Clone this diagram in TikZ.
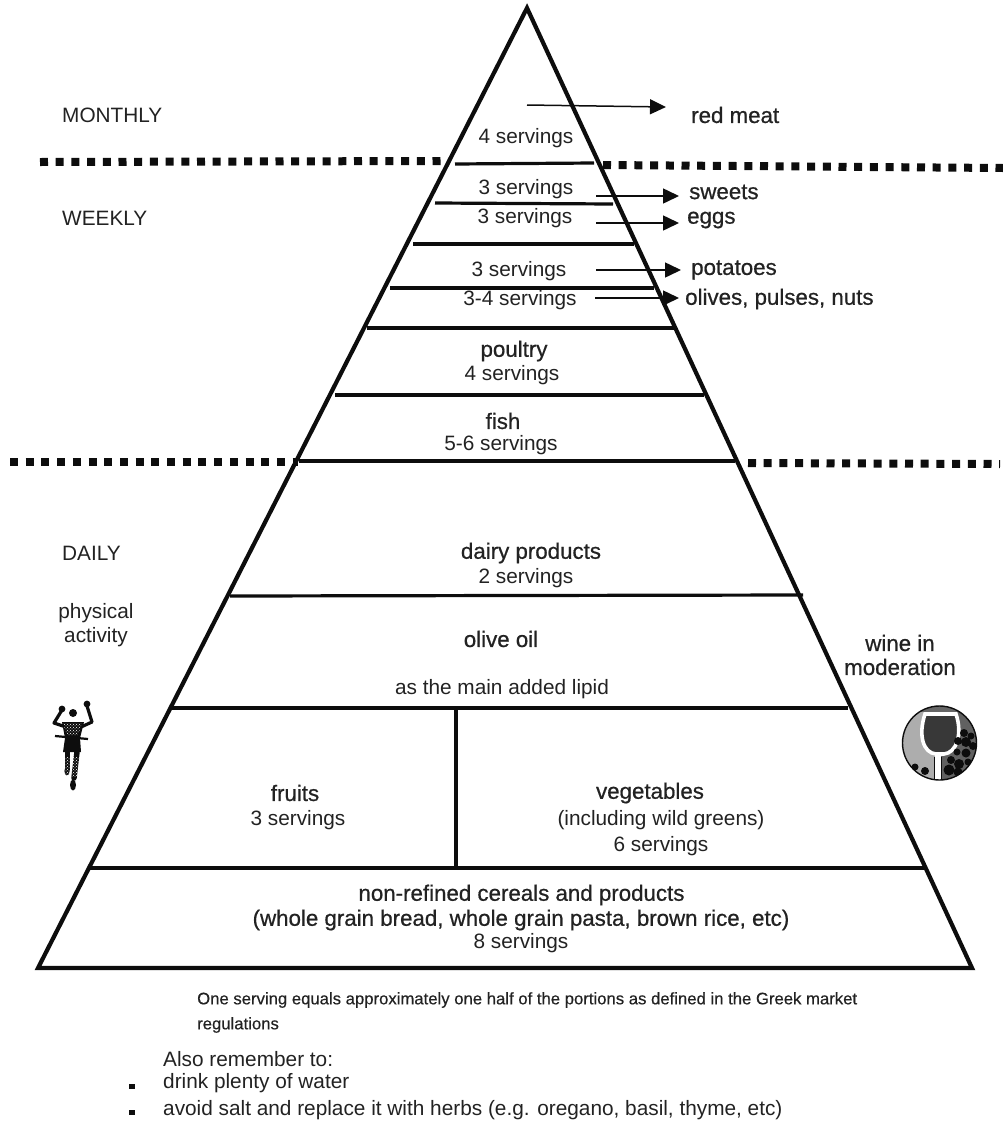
\documentclass[tikz,border=0pt]{standalone}
\usepackage{fontspec}
\setmainfont{Liberation Sans}
\newfontfamily\medfont[FakeBold=0.7]{Liberation Sans}
\newfontfamily\notefont[FakeBold=0.4]{Liberation Sans}
\usetikzlibrary{arrows.meta,patterns}
\definecolor{ink}{HTML}{0D0D0D}
\definecolor{txt}{HTML}{222222}
\tikzset{
  lbl/.style={inner sep=0pt,text=txt,font=\fontsize{20.8}{24}\selectfont,align=center},
  lblL/.style={lbl,anchor=west,align=left},
  bld/.style={lbl,font=\medfont\fontsize{22.3}{24}\selectfont},
  bldL/.style={bld,anchor=west},
  note/.style={lbl,anchor=west,font=\notefont\fontsize{16.7}{20}\selectfont},
  rem/.style={lbl,anchor=west,font=\fontsize{20.8}{24}\selectfont},
  tier/.style={draw=ink,line width=3.2pt},
  dots/.style={draw=ink,line width=8pt,dash pattern=on 8pt off 7.7pt},
  arr/.style={draw=ink,line width=1.5pt,-{Triangle[length=16pt,width=15pt]}}
}
\begin{document}
\begin{tikzpicture}[x=1pt,y=-1pt]
\useasboundingbox (0,0) rectangle (1003,1122);
% frame
\coordinate (apex) at (527,8);
\coordinate (bl) at (38,968);
\coordinate (br) at (972,968);
\draw[draw=ink,line width=4.2pt,line join=miter] (apex) -- (bl) -- (br) -- cycle;
% period separators
\draw[dots] (40,162) -- (441,161);
\draw[dots] (603,165) -- (1003,168);
\draw[dots] (10,462) -- (298,462);
\draw[dots] (748,463) -- (1000,464);
% tiers
\draw[tier] (455,164) -- (594,163);
\draw[tier] (435,203) -- (613,204);
\draw[tier] (413,244) -- (634,244);
\draw[tier] (390,288) -- (654,288);
\draw[tier] (367,328) -- (676,328);
\draw[tier] (335,395) -- (704,395);
\draw[tier] (299,461) -- (735,461);
\draw[tier] (230,596) -- (803,595);
\draw[tier] (172,708) -- (848,708);
\draw[tier] (90,868) -- (925,868);
\draw[tier,line width=4pt] (456,708) -- (456,868);
% arrows
\coordinate (a1) at (527,105); \coordinate (b1) at (666,107);
\coordinate (a2) at (596,196); \coordinate (b2) at (679,196);
\coordinate (a3) at (596,223); \coordinate (b3) at (679,223);
\coordinate (a4) at (596,270); \coordinate (b4) at (681,270);
\coordinate (a5) at (595,298); \coordinate (b5) at (679,298);
\draw[arr] (a1) -- (b1);
\draw[arr] (a2) -- (b2);
\draw[arr] (a3) -- (b3);
\draw[arr] (a4) -- (b4);
\draw[arr] (a5) -- (b5);
% left labels
\node[lblL] (monthly) at (62,115) {MONTHLY};
\node[lblL] (weekly) at (62,218) {WEEKLY};
\node[lblL] (daily) at (62,553) {DAILY};
\node[lbl] (phys) at (96,625) {physical\\activity};
% right labels
\node[bldL] (meat) at (691,115) {red meat};
\node[bldL] (sweets) at (689,192) {sweets};
\node[bldL] (eggs) at (687,220) {eggs};
\node[bldL] (pot) at (691,270) {potatoes};
\node[bldL] (oliv) at (685,299) {olives, pulses, nuts};
\node[bld] (wine) at (900,655) {wine in\\moderation};
% pyramid labels
\node[lbl] (s1) at (526,138) {4 servings};
\node[lbl] (s2) at (526,189) {3 servings};
\node[lbl] (s3) at (525,218) {3 servings};
\node[lbl] (s4) at (519,271) {3 servings};
\node[lbl] (s5) at (520,300) {3-4 servings};
\node[bld] (poultry) at (514,351) {poultry};
\node[lbl] (s6) at (512,375) {4 servings};
\node[bld] (fish) at (503,421) {fish};
\node[lbl] (s7) at (501,445.5) {5-6 servings};
\node[bld] (dairy) at (531,553) {dairy products};
\node[lbl] (s8) at (526,578) {2 servings};
\node[bld] (oil) at (501,639) {olive oil};
\node[lbl] (lipid) at (502,689) {as the main added lipid};
\node[bld] (fruits) at (295,793) {fruits};
\node[lbl] (s9) at (298,820) {3 servings};
\node[bld] (veg) at (650,793) {vegetables};
\node[lbl] (wild) at (661,820) {(including wild greens)};
\node[lbl] (s10) at (661,846) {6 servings};
\node[bld] (cer) at (521.5,895) {non-refined cereals and products};
\node[bld] (grain) at (521,920) {(whole grain bread, whole grain pasta, brown rice, etc)};
\node[lbl] (s11) at (521,943) {8 servings};
% notes
\node[note] (n1) at (197,1000) {One serving equals approximately one half of the portions as defined in the Greek market};
\node[note] (n2) at (197,1025) {regulations};
\node[rem] (n3) at (163,1059) {Also remember to:};
\node[rem] (n4) at (163,1083) {drink plenty of water};
\node[rem] (n5) at (163,1110) {avoid salt and replace it with herbs (e.g. oregano, basil, thyme, etc)};
\fill[ink] (129,1084) rectangle (135,1089);
\fill[ink] (129,1110) rectangle (135,1115);
% runner
\begin{scope}
\fill[ink] (62,709) circle (3.4);
\fill[ink] (87,704) circle (3.4);
\draw[ink,line width=3.2pt,line cap=round,line join=round] (62,710) -- (54,723) -- (66,727);
\draw[ink,line width=3.2pt,line cap=round,line join=round] (87,706) -- (92,722) -- (81,727);
\fill[ink] (73,713) circle (4);
\fill[ink] (62,722) -- (84,722) -- (80,738) -- (81,752) -- (63,752) -- (65,738) -- cycle;
\draw[ink,line width=2.2pt] (55,736) -- (88,739);
\draw[ink,line width=5pt,line cap=round] (67,752) -- (67,770);
\draw[ink,line width=5.5pt,line cap=round] (77,752) -- (74,778);
\fill[ink] (67,771) ellipse (2.6 and 4.5);
\fill[ink] (73,785) ellipse (3 and 5.5);
\fill[pattern=crosshatch dots,pattern color=white] (63,723) -- (82,723) -- (78,735) -- (67,735) -- cycle;
\fill[pattern=crosshatch dots,pattern color=white] (65,757) rectangle (80,776);
\end{scope}
% wine icon
\begin{scope}
\fill[black!32] (939.5,743) circle (37);
\clip (939.5,743) circle (37);
\fill[black!62] (940,705) rectangle (978,782);
\fill[black!60] (902,705) rectangle (978,712);
\fill[black!78] (926,714) .. controls (919,735) and (924,752) .. (936,753) -- (944,753) .. controls (955,752) and (962,735) .. (955,714) -- cycle;
\draw[white,line width=3.6pt] (925,714) .. controls (918,735) and (923,753) .. (936,754) -- (944,754) .. controls (956,753) and (963,735) .. (956,714) -- cycle;
\fill[white] (935,754) rectangle (941,782);
\draw[ink,line width=1pt] (934.5,757) -- (934.5,782) (941.5,757) -- (941.5,782);
\foreach \cx/\cy/\cr in {964/733/4,971/736/3.5,966/742/5,958/741/4,973/746/4,966/753/4.5,957/752/3.5,951/760/4,959/764/5,968/762/3.5,949/770/5.5,958/772/4.5,915/767/3.5,925/771/4}
  \fill[ink] (\cx,\cy) circle (\cr);
\end{scope}
\draw[ink,line width=1.4pt] (939.5,743) circle (37);
\end{tikzpicture}
\end{document}
